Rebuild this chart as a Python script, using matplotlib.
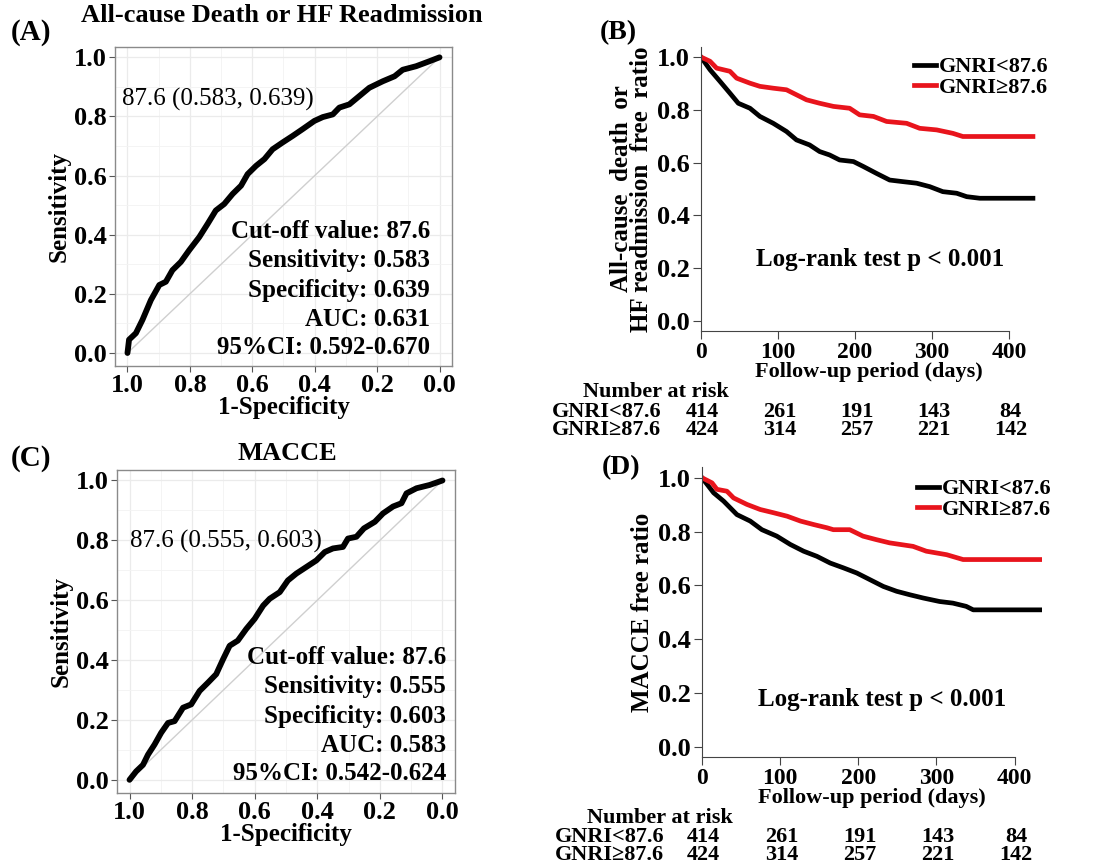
import matplotlib
matplotlib.use("Agg")
import matplotlib.pyplot as plt
import numpy as np
from matplotlib.transforms import blended_transform_factory

plt.rcParams['font.family'] = ['Liberation Serif', 'DejaVu Serif']
plt.rcParams['font.weight'] = 'bold'
plt.rcParams['axes.labelweight'] = 'bold'

# ---------------- data ----------------
roc_a_spec = [1.0, 0.995, 0.973, 0.952, 0.925, 0.898, 0.877, 0.856, 0.829, 0.802, 0.770, 0.743,
              0.717, 0.690, 0.663, 0.636, 0.615, 0.588, 0.561, 0.535, 0.503, 0.471, 0.439, 0.401,
              0.374, 0.342, 0.321, 0.289, 0.257, 0.225, 0.182, 0.144, 0.118, 0.075, 0.032, 0.0]
roc_a_sens = [0.0, 0.045, 0.067, 0.112, 0.179, 0.230, 0.241, 0.280, 0.308, 0.348, 0.392, 0.437,
              0.482, 0.504, 0.538, 0.566, 0.605, 0.633, 0.656, 0.689, 0.712, 0.734, 0.757, 0.785,
              0.798, 0.807, 0.830, 0.841, 0.869, 0.897, 0.919, 0.936, 0.958, 0.970, 0.987, 1.0]

roc_c_spec = [1.0, 0.979, 0.957, 0.941, 0.920, 0.899, 0.877, 0.856, 0.829, 0.803, 0.776, 0.749,
              0.723, 0.701, 0.680, 0.654, 0.627, 0.600, 0.573, 0.552, 0.520, 0.494, 0.467, 0.435,
              0.403, 0.376, 0.350, 0.318, 0.302, 0.275, 0.251, 0.216, 0.190, 0.158, 0.131, 0.115,
              0.083, 0.041, 0.0]
roc_c_sens = [0.0, 0.028, 0.050, 0.084, 0.118, 0.157, 0.190, 0.196, 0.241, 0.252, 0.297, 0.325,
              0.353, 0.403, 0.448, 0.465, 0.504, 0.538, 0.582, 0.605, 0.627, 0.666, 0.689, 0.711,
              0.733, 0.761, 0.773, 0.778, 0.806, 0.812, 0.840, 0.862, 0.890, 0.913, 0.924, 0.957,
              0.974, 0.985, 1.0]

km_b_low_t = [0, 11.7, 24.6, 37.6, 48.4, 63.6, 76.5, 93.8, 111, 124, 141, 154, 167, 180, 198, 211,
              228, 245, 262, 280, 297, 314, 332, 345, 362, 431]
km_b_low_s = [1.0, 0.952, 0.908, 0.863, 0.825, 0.806, 0.775, 0.749, 0.718, 0.686, 0.667, 0.642,
              0.629, 0.610, 0.604, 0.585, 0.559, 0.534, 0.528, 0.522, 0.509, 0.490, 0.484, 0.471,
              0.465, 0.465]
km_b_high_t = [0, 11.7, 20.3, 37.6, 46.3, 63.6, 76.5, 93.8, 111, 124, 137, 154, 172, 193, 206, 224,
               241, 267, 284, 306, 327, 340, 431]
km_b_high_s = [1.0, 0.984, 0.958, 0.946, 0.920, 0.901, 0.889, 0.882, 0.876, 0.857, 0.838, 0.825,
               0.813, 0.806, 0.781, 0.775, 0.756, 0.749, 0.730, 0.724, 0.711, 0.699, 0.699]

km_d_low_t = [0, 14.9, 27.7, 44.7, 61.7, 76.6, 95.7, 113, 130, 147, 164, 181, 198, 215, 232, 249,
              266, 283, 304, 321, 338, 347, 432]
km_d_low_s = [1.0, 0.944, 0.913, 0.863, 0.839, 0.807, 0.783, 0.752, 0.727, 0.708, 0.683, 0.665,
              0.646, 0.621, 0.596, 0.578, 0.565, 0.553, 0.540, 0.534, 0.522, 0.509, 0.509]
km_d_high_t = [0, 12.8, 19.1, 31.9, 40.4, 57.4, 74.5, 91.5, 109, 126, 143, 160, 168, 189, 206, 223,
               240, 270, 287, 313, 334, 432]
km_d_high_s = [1.0, 0.981, 0.957, 0.950, 0.925, 0.901, 0.882, 0.870, 0.857, 0.839, 0.826, 0.814,
               0.807, 0.807, 0.783, 0.770, 0.758, 0.745, 0.727, 0.714, 0.696, 0.696]

risk_times = [0, 100, 200, 300, 400]
risk_low = [414, 261, 191, 143, 84]
risk_high = [424, 314, 257, 221, 142]
group_labels = ['GNRI<87.6', 'GNRI≥87.6']

roc_ticks = [1.0, 0.8, 0.6, 0.4, 0.2, 0.0]
roc_a_stats = ['Cut-off value: 87.6', 'Sensitivity: 0.583', 'Specificity: 0.639',
               'AUC: 0.631', '95%CI: 0.592-0.670']
roc_c_stats = ['Cut-off value: 87.6', 'Sensitivity: 0.555', 'Specificity: 0.603',
               'AUC: 0.583', '95%CI: 0.542-0.624']

W, H = 1119, 866
fig = plt.figure(figsize=(W / 100, H / 100), dpi=100)


def fbox(l, t, r, b):
    return [l / W, 1 - b / H, (r - l) / W, (b - t) / H]


def roc_panel(box, spec, sens, point_txt, stats, title, letter, letter_xy, title_xy, stats_y):
    ax = fig.add_axes(fbox(*box))
    ax.set_xlim(1.04, -0.04)
    ax.set_ylim(-0.044, 1.035)
    ax.set_xticks(roc_ticks)
    ax.set_yticks(roc_ticks)
    ax.set_xticks(np.arange(0.1, 1.0, 0.2), minor=True)
    ax.set_yticks(np.arange(0.1, 1.0, 0.2), minor=True)
    ax.grid(which='major', color='#ebebeb', lw=0.9)
    ax.grid(which='minor', color='#f3f3f3', lw=0.6)
    ax.set_axisbelow(True)
    for s in ax.spines.values():
        s.set_color('#8a8a8a')
        s.set_linewidth(1.0)
    ax.tick_params(which='minor', length=0)
    ax.tick_params(which='major', length=4, color='#555555', labelsize=19, pad=2)
    ax.plot([1, 0], [0, 1], color='#cfcfcf', lw=1.0)
    ax.plot(spec, sens, color='black', lw=4.2, solid_capstyle='round')
    ax.set_xticklabels(['%.1f' % v for v in roc_ticks])
    ax.set_yticklabels(['%.1f' % v for v in roc_ticks])
    ax.set_xlabel('1-Specificity', fontsize=18, labelpad=-1)
    ax.set_ylabel('Sensitivity', fontsize=18, labelpad=2)
    ax.text(point_txt[1], point_txt[2], point_txt[0], fontsize=18, fontweight='normal',
            ha='left', va='center')
    for i, s in enumerate(stats):
        fig.text(stats_y[0] / W, 1 - (stats_y[1] + i * 29) / H, s, fontsize=18, ha='right',
                 va='center')
    fig.text(letter_xy[0] / W, 1 - letter_xy[1] / H, letter, fontsize=21, ha='left', va='center')
    fig.text(title_xy[0] / W, 1 - title_xy[1] / H, title, fontsize=19, ha='center', va='center')
    return ax


roc_panel((115, 47, 452, 366), roc_a_spec, roc_a_sens, ('87.6 (0.583, 0.639)', 1.016, 0.859),
          roc_a_stats, 'All-cause Death or HF Readmission', '(A)', (11, 33), (282, 16), (430, 232))
roc_panel((117, 470, 455, 793), roc_c_spec, roc_c_sens, ('87.6 (0.555, 0.603)', 1.0, 0.795),
          roc_c_stats, 'MACCE', '(C)', (11, 458), (287, 453), (446, 658))


def km_panel(box, lt, ls, ht, hs, ylabel, letter, letter_xy, risk_y, label_x, nar_x,
             logrank_xy, leg_anchor):
    ax = fig.add_axes(fbox(*box))
    ax.set_xlim(0, 435)
    ax.set_ylim(-0.038, 1.04)
    for s in ['top', 'right']:
        ax.spines[s].set_visible(False)
    ax.spines['bottom'].set_bounds(0, 400)
    ax.spines['left'].set_color('#444444')
    ax.spines['bottom'].set_color('#444444')
    ax.set_xticks(risk_times)
    ax.set_yticks([0.0, 0.2, 0.4, 0.6, 0.8, 1.0])
    ax.set_yticklabels(['0.0', '0.2', '0.4', '0.6', '0.8', '1.0'])
    ax.tick_params(length=6, color='#444444', pad=2)
    ax.tick_params(axis='x', labelsize=17)
    ax.tick_params(axis='y', labelsize=19)
    l1, = ax.plot(lt, ls, color='black', lw=3.4, label=group_labels[0])
    l2, = ax.plot(ht, hs, color='#e8141c', lw=3.4, label=group_labels[1])
    ax.legend(handles=[l1, l2], loc='upper right', bbox_to_anchor=leg_anchor, frameon=False,
              fontsize=16, handlelength=1.0, handletextpad=0.15, labelspacing=0.0,
              borderaxespad=0.0)
    ax.text(logrank_xy[0], logrank_xy[1], 'Log-rank test p < 0.001', transform=ax.transAxes,
            fontsize=18, ha='center', va='center')
    ax.set_xlabel('Follow-up period (days)', fontsize=16, labelpad=-1)
    ax.set_ylabel(ylabel, fontsize=18, labelpad=3, linespacing=0.85)
    fig.text(letter_xy[0] / W, 1 - letter_xy[1] / H, letter, fontsize=20, ha='left', va='center')
    tr = blended_transform_factory(ax.transData, fig.transFigure)
    fig.text(nar_x / W, 1 - risk_y[0] / H, 'Number at risk', fontsize=16, ha='left', va='center')
    for j, (lab, vals) in enumerate(zip(group_labels, [risk_low, risk_high])):
        yy = 1 - risk_y[1 + j] / H
        fig.text(label_x / W, yy, lab, fontsize=16, ha='left', va='center')
        for t, v in zip(risk_times, vals):
            ax.text(t + 2, yy, str(v), transform=tr, fontsize=16, ha='center', va='center')
    return ax


km_panel((701, 46.5, 1036, 331), km_b_low_t, km_b_low_s, km_b_high_t, km_b_high_s,
         'All-cause  death  or\nHF readmission  free  ratio', '(B)', (600, 33), (392, 412, 430),
         552, 583, (0.534, 0.25), (1.065, 0.995))
km_panel((702, 467, 1042, 757), km_d_low_t, km_d_low_s, km_d_high_t, km_d_high_s,
         'MACCE free ratio', '(D)', (602, 468), (818, 837, 855), 555, 587,
         (0.53, 0.197), (1.055, 0.99))

fig.savefig('out.png', dpi=100)
